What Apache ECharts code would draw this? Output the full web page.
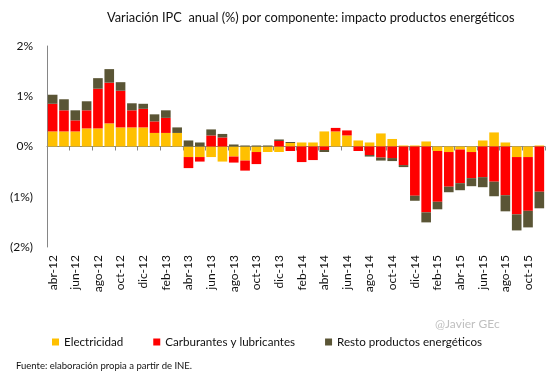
<!DOCTYPE html>
<html>
<head>
<meta charset="utf-8">
<script src="https://cdn.jsdelivr.net/npm/echarts@6/dist/echarts.min.js"></script>
<style>
html,body{margin:0;padding:0;background:#fff;}
#chart{width:557px;height:371px;}
</style>
</head>
<body>
<div id="chart"></div>
<script>
var categories = [
  'abr-12','may-12','jun-12','jul-12','ago-12','sep-12','oct-12','nov-12','dic-12',
  'ene-13','feb-13','mar-13','abr-13','may-13','jun-13','jul-13','ago-13','sep-13','oct-13','nov-13','dic-13',
  'ene-14','feb-14','mar-14','abr-14','may-14','jun-14','jul-14','ago-14','sep-14','oct-14','nov-14','dic-14',
  'ene-15','feb-15','mar-15','abr-15','may-15','jun-15','jul-15','ago-15','sep-15','oct-15','nov-15'
];
var electricidad = [
  0.30,0.30,0.30,0.36,0.36,0.46,0.38,0.38,0.38,
  0.27,0.27,0.27,-0.21,-0.21,-0.21,-0.30,-0.20,-0.28,-0.11,-0.11,-0.11,
  0.07,0.08,0.08,0.30,0.30,0.22,0.12,0.08,0.26,0.15,0.02,0.02,
  0.10,-0.09,-0.11,-0.06,-0.11,0.12,0.28,0.08,-0.21,-0.21,0.02
];
var carburantes = [
  0.55,0.42,0.22,0.36,0.79,0.81,0.73,0.34,0.37,
  0.23,0.30,0.00,-0.22,-0.09,0.22,0.18,-0.12,-0.20,-0.24,0.00,0.11,
  -0.09,-0.31,-0.27,-0.07,0.07,0.10,-0.09,-0.17,-0.22,-0.23,-0.37,-0.98,
  -1.31,-1.01,-0.69,-0.67,-0.52,-0.61,-0.70,-0.97,-1.14,-1.07,-0.90
];
var resto = [
  0.18,0.22,0.20,0.18,0.21,0.27,0.17,0.14,0.10,
  0.14,0.15,0.11,0.12,0.08,0.12,0.07,0.04,0.02,0.02,0.02,0.03,
  0.02,0.00,0.00,-0.04,0.00,0.00,0.00,-0.03,-0.06,-0.06,-0.04,-0.10,
  -0.20,-0.15,-0.11,-0.14,-0.16,-0.20,-0.29,-0.32,-0.32,-0.33,-0.33
];
var seriesNames = ['Electricidad','Carburantes y lubricantes','Resto productos energéticos'];
var yTicks = { min: -2, max: 2, interval: 1 };

var FONT = 'Lato';
var chart = echarts.init(document.getElementById('chart'), null, { renderer: 'canvas' });
var axisGrey = '#868686';

function barSeries(name, data, color) {
  return {
    name: name, type: 'bar', stack: 'total', data: data,
    xAxisIndex: 0, yAxisIndex: 0,
    barCategoryGap: '15%',
    itemStyle: { color: color },
    emphasis: { disabled: true }
  };
}

chart.setOption({
  animation: false,
  textStyle: { fontFamily: FONT },
  title: {
    text: 'Variación IPC  anual (%) por componente: impacto productos energéticos',
    left: 102, top: 6,
    textStyle: { fontFamily: FONT, fontSize: 12.8, fontWeight: 'normal', color: '#111' }
  },
  legend: {
    data: seriesNames,
    left: 47, top: 331,
    icon: 'rect', itemWidth: 7, itemHeight: 7, itemGap: 30, itemStyle: { borderWidth: 0 },
    textStyle: { fontFamily: FONT, fontSize: 11.6, color: '#111' }
  },
  grid: { left: 47, right: 12, top: 46, bottom: 124, containLabel: false },
  xAxis: [
    {
      type: 'category', data: categories, position: 'bottom',
      axisLine: { onZero: true, lineStyle: { color: axisGrey, width: 1 } },
      axisTick: { show: true, interval: 1, length: 4, lineStyle: { color: axisGrey } },
      axisLabel: { show: false },
      splitLine: { show: false }
    },
    {
      type: 'category', data: categories, position: 'bottom',
      axisLine: { show: false, onZero: false },
      axisTick: { show: false },
      axisLabel: { interval: 1, rotate: 90, margin: 8, fontFamily: FONT, fontSize: 12, color: '#111' },
      splitLine: { show: false }
    }
  ],
  yAxis: {
    type: 'value', min: yTicks.min, max: yTicks.max, interval: yTicks.interval,
    splitLine: { show: false },
    axisLine: { show: true, lineStyle: { color: axisGrey } },
    axisTick: { show: false },
    axisLabel: {
      margin: 14, fontFamily: FONT, fontSize: 12, color: '#111',
      formatter: function (v) { return v < 0 ? '(' + (-v) + '%)' : v + '%'; }
    }
  },
  series: [
    barSeries(seriesNames[0], electricidad, '#FFC000'),
    barSeries(seriesNames[1], carburantes, '#FF0000'),
    barSeries(seriesNames[2], resto, '#5A5535')
  ],
  graphic: [
    { type: 'text', left: 435, top: 318, style: { text: '@Javier GEc', fill: '#BFBFBF', font: '12px ' + FONT } },
    { type: 'text', left: 16, top: 361, style: { text: 'Fuente: elaboración propia a partir de INE.', fill: '#111', font: '9.5px ' + FONT } }
  ]
});
</script>
</body>
</html>
